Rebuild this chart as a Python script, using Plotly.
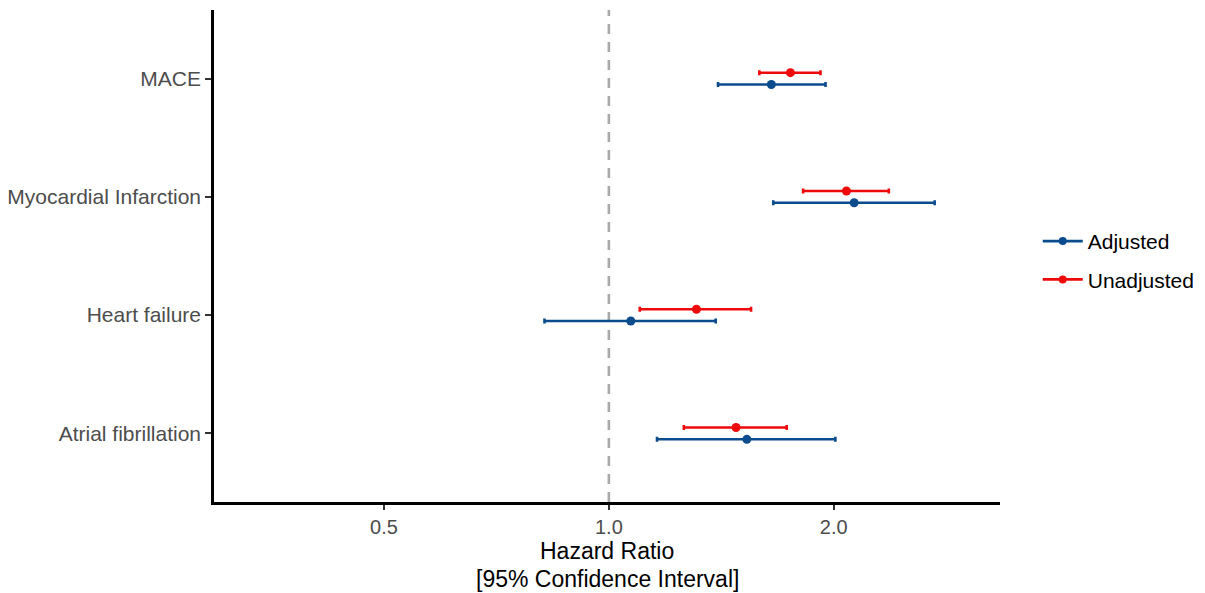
import plotly.graph_objects as go

outcomes = ["Atrial fibrillation", "Heart failure", "Myocardial Infarction", "MACE"]
adj_hr = [1.53, 1.07, 2.13, 1.65]
adj_lo = [1.16, 0.82, 1.66, 1.40]
adj_hi = [2.01, 1.39, 2.73, 1.95]
unadj_hr = [1.48, 1.31, 2.08, 1.75]
unadj_lo = [1.26, 1.10, 1.82, 1.59]
unadj_hi = [1.73, 1.55, 2.37, 1.92]
x_ticks = [0.5, 1.0, 2.0]
x_tick_labels = ["0.5", "1.0", "2.0"]
x_title_lines = ["Hazard Ratio", "[95% Confidence Interval]"]

BLUE = "#0B4C8E"
RED = "#EE0A0A"
dodge = 0.05
ypos = list(range(len(outcomes)))

fig = go.Figure()

def add_series(name, hr, lo, hi, color, off):
    fig.add_trace(go.Scatter(
        x=hr, y=[y + off for y in ypos], mode="markers",
        marker=dict(color=color, size=9),
        error_x=dict(type="data", symmetric=False,
                     array=[h - m for h, m in zip(hi, hr)],
                     arrayminus=[m - l for m, l in zip(hr, lo)],
                     color=color, thickness=2.6, width=2.5),
        showlegend=False, name=name, hoverinfo="skip"))

add_series("Adjusted", adj_hr, adj_lo, adj_hi, BLUE, -dodge)
add_series("Unadjusted", unadj_hr, unadj_lo, unadj_hi, RED, dodge)

for name, color in [("Adjusted", BLUE), ("Unadjusted", RED)]:
    fig.add_trace(go.Scatter(x=[None], y=[None], mode="lines+markers", name=name,
                             line=dict(color=color, width=2.6),
                             marker=dict(color=color, size=8), legendgroup=name))

fig.add_shape(type="line", xref="x", yref="paper", x0=1.0, x1=1.0, y0=0, y1=1,
              line=dict(color="#A9A9A9", width=2.6, dash="10px,8px"), layer="below")

# x-axis title as two centred text lines below the tick labels
for txt, yp in zip(x_title_lines, [-0.0996, -0.1565]):
    fig.add_annotation(text=txt, xref="paper", yref="paper", x=0.5, y=yp,
                       xanchor="center", yanchor="middle", showarrow=False,
                       font=dict(size=23, color="black"))

fig.update_layout(
    width=1205, height=593,
    margin=dict(l=214, r=205, t=10, b=91, autoexpand=False),
    plot_bgcolor="white", paper_bgcolor="white",
    font=dict(family="Liberation Sans, Arial, sans-serif", size=20, color="#4D4D4D"),
    xaxis=dict(type="log", range=[-0.5286, 0.5236], automargin=False,
               tickvals=x_ticks, ticktext=x_tick_labels,
               showgrid=False, zeroline=False,
               showline=True, linecolor="black", linewidth=2.5,
               ticks="outside", ticklen=5, tickwidth=2, tickcolor="#333333",
               tickfont=dict(size=20, color="#4D4D4D")),
    yaxis=dict(range=[-0.58, 3.58], tickvals=ypos, ticktext=outcomes, automargin=False,
               showgrid=False, zeroline=False,
               showline=True, linecolor="black", linewidth=2.5,
               ticks="outside", ticklen=6, tickwidth=2, tickcolor="#333333",
               tickfont=dict(size=21, color="#4D4D4D")),
    legend=dict(x=1.048, y=0.491, xanchor="left", yanchor="middle",
                font=dict(size=21, color="black"), tracegroupgap=8,
                itemwidth=40, bgcolor="rgba(0,0,0,0)"),
)

fig.write_html("out.html", post_script="document.body.style.margin='0';",
               config={"displayModeBar": False})
